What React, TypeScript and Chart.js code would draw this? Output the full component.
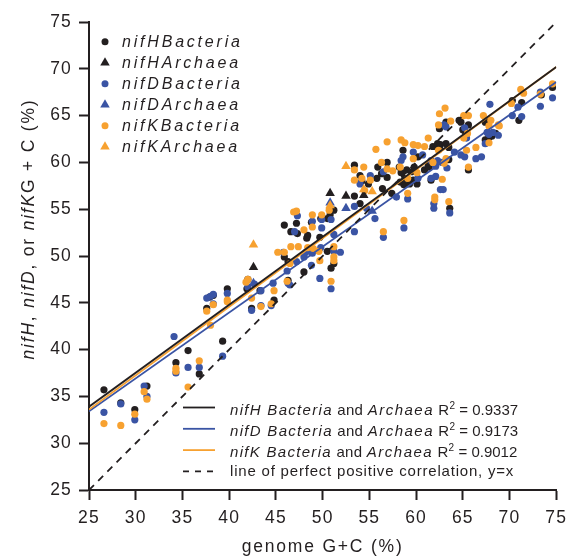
import React, { useEffect, useRef } from 'react';
import { Chart, registerables } from 'chart.js';

Chart.register(...registerables);

type Pt = [number, number];

// ---- axis ranges / ticks ----
const X_MIN = 25;
const X_MAX = 75;
const Y_MIN = 25;
const Y_MAX = 75;
const TICK_STEP = 5;

// ---- data (genome G+C %, gene G+C %) ----
const nifHBacteria: Pt[] = [
  [26.6, 35.7], [28.4, 34.3], [29.9, 33.6], [31.2, 36.1], [34.3, 38.6], [35.6, 39.9], [36.8, 37.4], [39.3, 40.9],
  [37.6, 44.4], [37.9, 45.6], [38.3, 45.8], [39.8, 46.5], [42.0, 47.5], [41.9, 46.5], [42.4, 44.4], [43.3, 46.3], [44.8, 45.3],
  [46.3, 47.4], [45.9, 49.9], [46.3, 49.4], [48.0, 48.3], [50.9, 48.7], [51.2, 49.2],
  [45.9, 53.3], [46.6, 52.6], [47.2, 53.5], [47.3, 52.4], [48.3, 51.9], [48.8, 53.6], [48.4, 52.2], [49.7, 52.0], [49.8, 54.0],
  [50.5, 54.0], [50.8, 54.4], [51.2, 54.9], [50.5, 50.5],
  [53.4, 59.7], [53.4, 56.4], [54.0, 58.6], [54.0, 55.6], [54.2, 58.0], [54.9, 57.7], [55.8, 58.3], [55.9, 59.5], [56.3, 58.8],
  [56.4, 57.2], [56.9, 58.4], [56.9, 60.0], [57.4, 56.7],
  [58.2, 59.5], [58.3, 57.9], [58.4, 58.9], [58.6, 61.3], [58.7, 57.6], [58.8, 58.3], [59.0, 59.2], [59.3, 57.7], [59.5, 59.0],
  [59.7, 58.1], [59.8, 59.5], [60.1, 57.7], [60.2, 60.6],
  [60.9, 59.2], [61.3, 59.7], [61.4, 59.5], [61.6, 58.1], [61.8, 61.7], [62.3, 62.0], [62.5, 61.6], [62.6, 61.9], [62.5, 63.6],
  [63.1, 64.0], [63.2, 64.3], [63.2, 62.0], [63.5, 61.6], [63.5, 60.3], [63.6, 55.1],
  [64.6, 64.5], [64.8, 64.3], [65.0, 63.5], [65.3, 63.2], [65.6, 64.0], [65.6, 59.2],
  [67.4, 62.4], [67.4, 64.3], [67.6, 64.4], [68.1, 62.8], [68.5, 63.1], [67.8, 62.7],
  [70.3, 66.6], [71.0, 64.5], [71.3, 66.4], [73.4, 67.2], [74.6, 68.0],
];

const nifHArchaea: Pt[] = [[42.6, 48.8], [50.8, 56.7], [52.5, 56.4], [54.4, 56.5]];

const nifDBacteria: Pt[] = [
  [26.6, 33.3], [28.4, 34.2], [29.9, 32.5], [30.9, 36.1], [31.2, 35.0], [34.1, 41.4], [34.3, 37.5], [35.6, 38.1], [36.8, 38.1], [39.3, 39.3],
  [37.6, 45.5], [38.0, 45.7], [38.3, 45.9], [38.3, 44.9], [39.8, 46.0], [42.0, 46.7], [42.7, 47.0], [42.4, 44.2], [43.4, 44.7],
  [43.4, 46.3], [44.7, 47.1], [44.5, 44.7],
  [46.2, 48.4], [46.3, 47.1], [46.5, 46.9], [47.2, 49.4], [48.0, 49.9], [48.2, 50.4], [48.8, 49.0], [48.8, 50.8], [49.7, 47.6], [50.9, 46.5],
  [47.3, 54.3], [47.0, 52.6], [48.9, 53.7], [49.9, 53.9], [49.9, 53.0], [50.9, 53.9], [45.8, 50.4], [48.9, 50.3], [49.8, 50.9],
  [51.2, 52.3], [51.9, 50.4], [51.2, 50.5],
  [53.4, 55.3], [53.4, 52.6], [54.0, 57.7], [54.7, 55.1], [55.1, 58.6], [55.6, 54.0], [56.5, 59.0], [56.5, 52.0], [57.9, 56.3],
  [58.4, 60.2], [58.6, 60.6], [58.7, 53.0], [59.1, 56.1], [59.7, 61.1], [60.2, 58.3], [60.7, 60.8],
  [61.6, 60.2], [61.6, 58.3], [61.9, 55.6], [61.9, 55.1], [62.1, 58.5], [62.1, 59.6], [62.3, 60.2], [62.6, 57.1], [62.8, 60.0],
  [62.9, 57.1], [63.0, 64.0], [63.2, 63.8], [63.3, 59.4], [63.6, 54.6],
  [64.1, 61.1], [64.8, 60.8], [65.2, 60.6], [65.2, 63.7], [65.4, 62.6], [66.4, 60.4], [67.0, 60.6], [67.4, 62.0], [67.6, 63.2],
  [67.8, 63.0], [67.9, 66.2], [68.2, 63.2], [68.8, 62.9],
  [70.3, 65.0], [70.9, 65.9], [71.3, 64.9], [73.3, 67.5], [73.3, 66.0], [74.6, 66.9],
];

const nifDArchaea: Pt[] = [[42.6, 47.1], [50.8, 55.7], [52.5, 55.1], [55.3, 54.8]];

const nifKBacteria: Pt[] = [
  [26.6, 32.1], [28.4, 31.9], [29.9, 33.1], [30.9, 35.5], [31.2, 34.7], [34.3, 38.0], [34.3, 37.7], [35.6, 36.0], [36.8, 38.8],
  [37.6, 44.1], [38.3, 44.8], [38.0, 42.6], [39.8, 45.3], [39.8, 45.1], [41.8, 47.2], [42.0, 47.5], [42.4, 45.5], [43.4, 44.6],
  [44.8, 46.3], [44.5, 44.9],
  [45.2, 50.4], [45.9, 50.4], [46.2, 47.3], [46.5, 49.2], [46.6, 51.0], [47.4, 51.0], [48.4, 50.9], [49.0, 50.8], [49.6, 50.5],
  [49.7, 49.5], [50.9, 47.3], [51.2, 51.0], [51.2, 49.9], [51.2, 49.5],
  [46.9, 54.7], [47.2, 54.8], [48.0, 52.8], [48.9, 54.4], [48.9, 53.1], [49.9, 54.4], [50.7, 54.9],
  [53.4, 59.2], [53.4, 58.1], [54.2, 58.3], [54.4, 59.5], [54.5, 57.0], [55.1, 58.1], [55.7, 61.4], [56.3, 60.0], [56.5, 52.6],
  [56.9, 59.3], [56.9, 62.2], [57.5, 59.1],
  [58.3, 59.5], [58.4, 62.4], [58.7, 53.8], [58.8, 62.1], [59.1, 56.7], [59.1, 58.3], [59.7, 61.9], [59.7, 60.4], [60.1, 58.9],
  [60.2, 61.8], [60.9, 61.7], [61.3, 62.6],
  [61.8, 60.0], [62.0, 56.3], [62.0, 56.0], [62.4, 61.3], [62.4, 64.0], [62.5, 65.2], [62.8, 58.2], [63.0, 59.9], [63.1, 65.8],
  [63.2, 60.4], [63.5, 55.8], [63.7, 64.4],
  [65.1, 65.0], [65.6, 65.0], [65.5, 63.1], [65.1, 62.6], [65.4, 61.3], [65.6, 59.5], [66.4, 61.6], [67.2, 65.0], [67.8, 62.1],
  [67.8, 63.9], [68.0, 64.5], [68.8, 64.0], [68.9, 63.9],
  [70.2, 66.3], [71.2, 67.8], [71.5, 67.4], [73.3, 67.3], [74.6, 68.4],
];

const nifKArchaea: Pt[] = [[42.6, 51.2], [50.8, 55.4], [52.5, 59.6], [54.4, 57.1], [55.3, 56.9]];

// regression lines and y = x
const nifHFit: Pt[] = [[25, 33.9], [75, 70.2]];
const nifDFit: Pt[] = [[25, 33.4], [75, 68.6]];
const nifKFit: Pt[] = [[25, 33.6], [75, 70.2]];
const perfectCorrelation: Pt[] = [[25, 25], [75, 75]];

const genes = ['nifH', 'nifD', 'nifK'];
const domains = ['Bacteria', 'Archaea'];
const r2Values = ['0.9337', '0.9173', '0.9012'];
const xAxisTitle = 'genome G+C (%)';
const identityLabel = 'line of perfect positive correlation, y=x';

// ---- styles ----
const INK = '#231f20';
const BLUE = '#3a54a4';
const ORANGE = '#f7a130';
const GENE_COLORS = [INK, BLUE, ORANGE];
const FONT = '"Liberation Sans", Arial, Helvetica, sans-serif';

type Run = { t: string; italic?: boolean; size: number; sp: number; dy?: number };

function drawRuns(ctx: CanvasRenderingContext2D, runs: Run[], x: number, y: number, measureOnly = false): number {
  let cx = x;
  for (const r of runs) {
    ctx.font = `${r.italic ? 'italic ' : ''}${r.size}px ${FONT}`;
    for (const ch of r.t) {
      if (!measureOnly) ctx.fillText(ch, cx, y + (r.dy || 0));
      cx += ctx.measureText(ch).width + r.sp;
    }
  }
  return cx - x;
}

function drawMarker(ctx: CanvasRenderingContext2D, shape: string, x: number, y: number, color: string) {
  ctx.fillStyle = color;
  ctx.beginPath();
  if (shape === 'circle') {
    ctx.arc(x, y, 3.5, 0, Math.PI * 2);
  } else {
    const r = 5.5;
    ctx.moveTo(x, y - r);
    ctx.lineTo(x + r * Math.sin((2 * Math.PI) / 3), y - r * Math.cos((2 * Math.PI) / 3));
    ctx.lineTo(x + r * Math.sin((4 * Math.PI) / 3), y - r * Math.cos((4 * Math.PI) / 3));
    ctx.closePath();
  }
  ctx.fill();
}

const textPlugin = {
  id: 'textPlugin',
  beforeDraw(chart: any) {
    const c: any = chart.ctx;
    if ('letterSpacing' in c) c.letterSpacing = '1.2px';
  },
  afterDraw(chart: any) {
    const ctx: any = chart.ctx;
    const area = chart.chartArea;
    ctx.save();
    if ('letterSpacing' in ctx) ctx.letterSpacing = '0px';
    ctx.textAlign = 'left';
    ctx.textBaseline = 'alphabetic';
    ctx.fillStyle = INK;

    // x-axis title
    const xr: Run[] = [{ t: xAxisTitle, size: 17.5, sp: 1.8 }];
    const xw = drawRuns(ctx, xr, 0, 0, true);
    drawRuns(ctx, xr, (area.left + area.right) / 2 - xw / 2, 552);

    // y-axis title
    const yr: Run[] = [
      { t: 'nifH', italic: true, size: 17.5, sp: 1.8 },
      { t: ', ', size: 17.5, sp: 1.8 },
      { t: 'nifD', italic: true, size: 17.5, sp: 1.8 },
      { t: ', or ', size: 17.5, sp: 1.8 },
      { t: 'nifK', italic: true, size: 17.5, sp: 1.8 },
      { t: 'G + C (%)', size: 17.5, sp: 1.8 },
    ];
    const yw = drawRuns(ctx, yr, 0, 0, true);
    ctx.save();
    ctx.translate(34, 229);
    ctx.rotate(-Math.PI / 2);
    ctx.fillStyle = INK;
    drawRuns(ctx, yr, -yw / 2, 0);
    ctx.restore();

    // marker legend (top-left)
    let row = 0;
    genes.forEach((g, gi) => {
      domains.forEach((d, di) => {
        const cy = 41.7 + row * 21;
        drawMarker(ctx, di === 0 ? 'circle' : 'triangle', 105, cy, GENE_COLORS[gi]);
        ctx.fillStyle = INK;
        drawRuns(ctx, [{ t: g, italic: true, size: 16, sp: 2.8 }, { t: d, italic: true, size: 16, sp: 2.8 }], 122, cy + 5.5);
        row++;
      });
    });

    // fit legend (bottom-right)
    const lx0 = 183;
    const lx1 = 215;
    const tx = 230;
    genes.forEach((g, gi) => {
      const cy = 407.5 + gi * 21.3;
      ctx.strokeStyle = GENE_COLORS[gi];
      ctx.lineWidth = 1.8;
      ctx.setLineDash([]);
      ctx.beginPath();
      ctx.moveTo(lx0, cy);
      ctx.lineTo(lx1, cy);
      ctx.stroke();
      ctx.fillStyle = INK;
      drawRuns(
        ctx,
        [
          { t: g + ' ' + domains[0], italic: true, size: 15, sp: 1.3 },
          { t: ' and ', size: 15, sp: 0.3 },
          { t: domains[1], italic: true, size: 15, sp: 1.5 },
          { t: ' R', size: 15, sp: 0.2 },
          { t: '2', size: 10, sp: 0.2, dy: -6 },
          { t: ' = ' + r2Values[gi], size: 15, sp: 0 },
        ],
        tx,
        cy + 7
      );
    });
    const dy = 407.5 + 3 * 21.3;
    ctx.strokeStyle = INK;
    ctx.lineWidth = 1.8;
    ctx.setLineDash([6, 6]);
    ctx.beginPath();
    ctx.moveTo(lx0, dy);
    ctx.lineTo(lx1, dy);
    ctx.stroke();
    ctx.setLineDash([]);
    ctx.fillStyle = INK;
    drawRuns(ctx, [{ t: identityLabel, size: 15, sp: 0.8 }], tx, dy + 5);

    ctx.restore();
  },
};

const toXY = (pts: Pt[]) => pts.map(([x, y]) => ({ x, y }));

export default function App() {
  const ref = useRef<HTMLCanvasElement | null>(null);

  useEffect(() => {
    if (!ref.current) return;
    const lineDs = (data: Pt[], color: string, width: number, dash: number[] = []) => ({
      type: 'scatter' as const,
      data: toXY(data),
      showLine: true,
      borderColor: color,
      borderWidth: width,
      borderDash: dash,
      pointRadius: 0,
      fill: false,
    });
    const pointDs = (data: Pt[], color: string, triangle = false) => ({
      type: 'scatter' as const,
      data: toXY(data),
      showLine: false,
      pointStyle: triangle ? 'triangle' : 'circle',
      pointRadius: triangle ? 5.5 : 3.6,
      pointBorderWidth: 0,
      pointBackgroundColor: color,
      borderColor: color,
      backgroundColor: color,
    });

    const chart = new Chart(ref.current, {
      type: 'scatter',
      data: {
        datasets: [
          lineDs(perfectCorrelation, INK, 1.8, [7, 6]),
          lineDs(nifHFit, INK, 1.8),
          lineDs(nifKFit, ORANGE, 1.8),
          lineDs(nifDFit, BLUE, 1.8),
          pointDs(nifKArchaea, ORANGE, true),
          pointDs(nifDArchaea, BLUE, true),
          pointDs(nifHArchaea, INK, true),
          pointDs(nifKBacteria, ORANGE),
          pointDs(nifDBacteria, BLUE),
          pointDs(nifHBacteria, INK),
        ] as any,
      },
      options: {
        animation: false,
        responsive: false,
        devicePixelRatio: 1,
        layout: { padding: { left: 0, top: 22, right: 12, bottom: 0 } },
        plugins: { legend: { display: false }, tooltip: { enabled: false }, title: { display: false } },
        events: [],
        scales: {
          x: {
            type: 'linear',
            min: X_MIN,
            max: X_MAX,
            afterFit: (s: any) => {
              s.height = 68;
            },
            border: { display: true, color: INK, width: 2 },
            grid: { drawOnChartArea: false, drawTicks: true, tickLength: 10, tickColor: INK, tickWidth: 2, color: INK },
            ticks: { stepSize: TICK_STEP, color: INK, padding: 8, font: { family: FONT, size: 17.5 }, maxRotation: 0 },
          },
          y: {
            type: 'linear',
            min: Y_MIN,
            max: Y_MAX,
            afterFit: (s: any) => {
              s.width = 89;
            },
            border: { display: true, color: INK, width: 2 },
            grid: { drawOnChartArea: false, drawTicks: true, tickLength: 10, tickColor: INK, tickWidth: 2, color: INK },
            ticks: { stepSize: TICK_STEP, color: INK, padding: 7, font: { family: FONT, size: 17.5 } },
          },
        },
      } as any,
      plugins: [textPlugin],
    });
    return () => chart.destroy();
  }, []);

  return (
    <div style={{ position: 'fixed', left: 0, top: 0, width: 574, height: 558, background: '#fff' }}>
      <canvas ref={ref} width={574} height={558} style={{ width: 574, height: 558, display: 'block' }} />
    </div>
  );
}
